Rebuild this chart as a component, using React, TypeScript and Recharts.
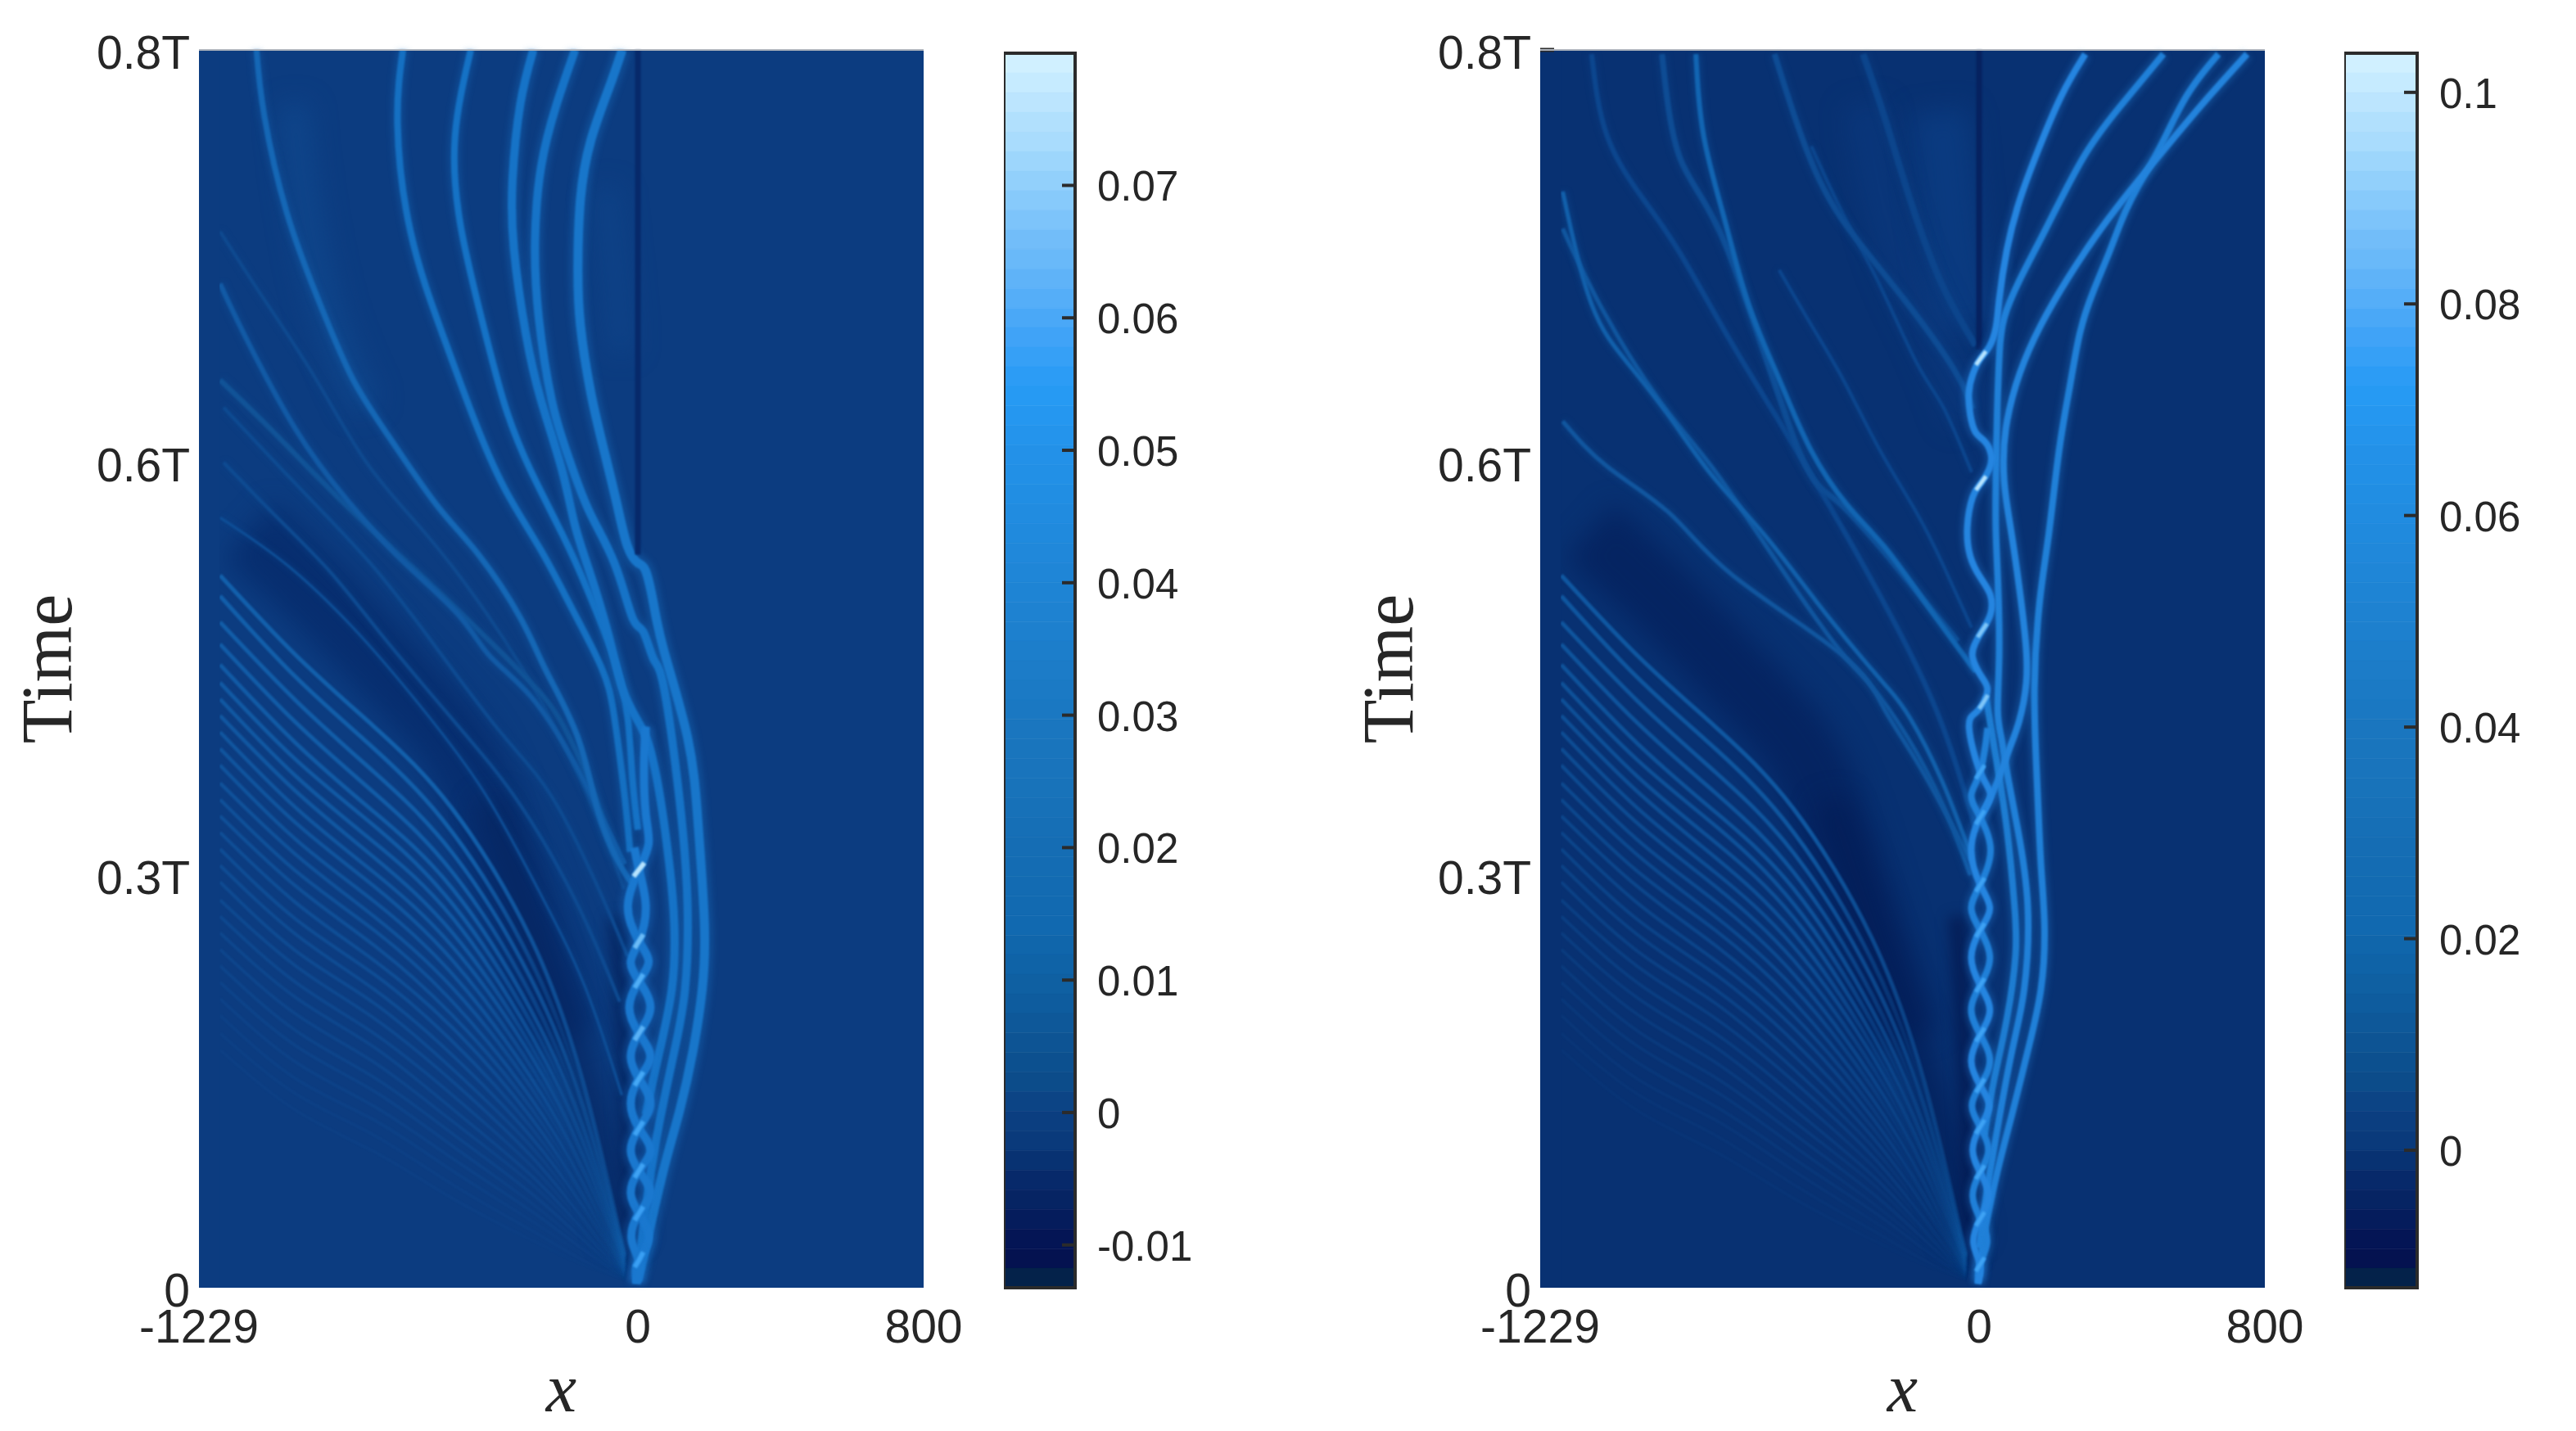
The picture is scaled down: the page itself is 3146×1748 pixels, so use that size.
import { ComposedChart, Line, XAxis, YAxis, ReferenceArea, ReferenceLine } from 'recharts';

type Pt = [number, number];

// colormap, top of the bar first
const colormap = [
  '#d0f0ff', '#c6ebff', '#bce5fe', '#b1e0fd', '#a9dcfd', '#9dd6fc', '#92d0fb', '#87cafb', '#7dc4fa',
  '#72bdf9', '#69b9f9', '#5fb3f8', '#55aef8', '#4aa8f7', '#40a3f7', '#36a0f6', '#2c9cf5', '#269af3',
  '#2597f0', '#2494ec', '#2391e8', '#2290e6', '#218ee3', '#218ce0', '#208add', '#2088da', '#1f86d7',
  '#1e84d4', '#1e82d1', '#1d80ce', '#1c7ecb', '#1c7cc8', '#1b7ac5', '#1a78c2', '#1a76bf', '#1975bd',
  '#1974bc', '#1873ba', '#1771b8', '#166fb6', '#156db4', '#146cb3', '#136bb2', '#126ab1', '#1169b0',
  '#1066ab', '#0f63a7', '#0f60a2', '#0e5c9e', '#0e5899', '#0d5494', '#0c508f', '#0c4c8a', '#0c4485',
  '#0b3e80', '#0a3a7b', '#083272', '#07296a', '#062463', '#051c5c', '#041555', '#041250', '#04224a',
];

const xTicks = [-1229, 0, 800];
const timeTicks = [0, 0.3, 0.6, 0.9];
const timeLabels = ['0', '0.3T', '0.6T', '0.8T'];

// the fine fan of ridges on the left, one list of times per x column
const fanX = [-1170, -958, -739, -519, -300, -154, -37];
const fanAt1170 = [0.518, 0.503, 0.484, 0.468, 0.453, 0.44, 0.428, 0.416, 0.404, 0.392, 0.38, 0.367, 0.355, 0.343, 0.331, 0.319, 0.307, 0.295, 0.282, 0.27, 0.258, 0.246, 0.234, 0.222, 0.21, 0.198, 0.185, 0.173];
const fanAt958 = [0.46, 0.444, 0.427, 0.411, 0.396, 0.384, 0.372, 0.361, 0.349, 0.338, 0.326, 0.315, 0.303, 0.292, 0.28, 0.268, 0.257, 0.245, 0.234, 0.222, 0.211, 0.199, 0.187, 0.176, 0.164, 0.152, 0.141, 0.129];
const fanAt739 = [0.408, 0.392, 0.375, 0.36, 0.346, 0.336, 0.324, 0.313, 0.302, 0.292, 0.281, 0.27, 0.26, 0.249, 0.238, 0.228, 0.217, 0.207, 0.196, 0.185, 0.175, 0.164, 0.153, 0.143, 0.132, 0.122, 0.111, 0.099];
const fanAt519 = [0.348, 0.331, 0.316, 0.302, 0.29, 0.279, 0.269, 0.258, 0.248, 0.238, 0.228, 0.218, 0.208, 0.198, 0.189, 0.179, 0.169, 0.159, 0.15, 0.14, 0.13, 0.121, 0.112, 0.103, 0.094, 0.085, 0.075, 0.065];
const fanAt300 = [0.254, 0.238, 0.225, 0.213, 0.202, 0.193, 0.184, 0.176, 0.169, 0.161, 0.153, 0.146, 0.138, 0.131, 0.124, 0.117, 0.11, 0.103, 0.096, 0.089, 0.082, 0.076, 0.069, 0.062, 0.056, 0.049, 0.042, 0.035];
const fanAt154 = [0.15, 0.141, 0.132, 0.124, 0.117, 0.111, 0.106, 0.1, 0.096, 0.091, 0.086, 0.081, 0.076, 0.071, 0.067, 0.063, 0.059, 0.054, 0.05, 0.046, 0.042, 0.039, 0.035, 0.031, 0.028, 0.024, 0.02, 0.017];
const fanAt37 = [0.024, 0.023, 0.022, 0.021, 0.02, 0.019, 0.018, 0.017, 0.016, 0.016, 0.015, 0.014, 0.013, 0.013, 0.012, 0.012, 0.011, 0.011, 0.01, 0.01, 0.009, 0.009, 0.008, 0.008, 0.007, 0.007, 0.006, 0.006];
const fanColumns = [fanAt1170, fanAt958, fanAt739, fanAt519, fanAt300, fanAt154, fanAt37];

// dark troughs behind the fan
const troughUpper: Pt[] = [[-1090, 0.55], [-885, 0.5], [-665, 0.44], [-500, 0.39], [-400, 0.33], [-300, 0.25], [-210, 0.18]];
const troughLower: Pt[] = [[-417, 0.354], [-271, 0.242], [-124, 0.126], [-37, 0.035]];
const troughBraid: Pt[] = [[-62, 0.27], [-45, 0.2], [-28, 0.1], [-12, 0.02]];

// lighter wide bands in the upper part
const leftGlowOne: Pt[] = [[-965, 0.86], [-940, 0.8], [-870, 0.71], [-760, 0.64]];
const leftGlowTwo: Pt[] = [[-90, 0.8], [-65, 0.74], [-45, 0.68]];
const rightGlowOne: Pt[] = [[-110, 0.855], [-90, 0.8], [-60, 0.74], [-25, 0.7]];
const rightGlowTwo: Pt[] = [[-320, 0.86], [-280, 0.8], [-210, 0.74], [-120, 0.69], [-30, 0.63]];

// left panel
const leftA: Pt[] = [[-44, 0.9], [-80, 0.873], [-132, 0.834], [-161, 0.791], [-168, 0.742], [-161, 0.7], [-132, 0.651], [-95, 0.609], [-58, 0.569], [-29, 0.539], [0, 0.527], [22, 0.521], [44, 0.497], [73, 0.463], [139, 0.4], [168, 0.339], [186, 0.266], [180, 0.217], [154, 0.172], [117, 0.129], [73, 0.087], [29, 0.038], [0, 0.005]];
const leftB: Pt[] = [[-176, 0.9], [-227, 0.861], [-271, 0.815], [-288, 0.761], [-278, 0.706], [-241, 0.645], [-197, 0.606], [-139, 0.566], [-66, 0.527], [-15, 0.487], [15, 0.477], [44, 0.457], [73, 0.436], [117, 0.354], [139, 0.278], [132, 0.217], [102, 0.172], [58, 0.117], [29, 0.071], [4, 0.02]];
const leftC: Pt[] = [[-293, 0.9], [-329, 0.861], [-351, 0.806], [-347, 0.755], [-314, 0.694], [-271, 0.645], [-212, 0.594], [-176, 0.554], [-132, 0.518], [-80, 0.472], [-44, 0.436], [0, 0.412], [29, 0.396], [58, 0.363], [88, 0.308], [102, 0.263], [95, 0.217], [58, 0.169], [22, 0.126]];
const leftD: Pt[] = [[-468, 0.9], [-512, 0.837], [-497, 0.773], [-439, 0.706], [-373, 0.642], [-300, 0.594], [-212, 0.548], [-139, 0.506], [-66, 0.457], [-29, 0.415], [-15, 0.369], [0, 0.333]];
const leftE: Pt[] = [[-658, 0.9], [-673, 0.846], [-636, 0.767], [-548, 0.694], [-461, 0.633], [-373, 0.581], [-271, 0.536], [-183, 0.493], [-102, 0.451], [-66, 0.415], [-37, 0.357], [-22, 0.317]];
const leftF: Pt[] = [[-1068, 0.9], [-1046, 0.852], [-980, 0.779], [-885, 0.712], [-797, 0.66], [-695, 0.618], [-563, 0.569], [-446, 0.533], [-329, 0.487], [-256, 0.448], [-168, 0.4], [-110, 0.345], [-51, 0.308], [-19, 0.295]];
const leftG: Pt[] = [[-1170, 0.73], [-1104, 0.694], [-958, 0.624], [-812, 0.572], [-665, 0.53], [-505, 0.49], [-417, 0.46], [-300, 0.43], [-183, 0.384], [-95, 0.339], [-37, 0.308]];
const leftH: Pt[] = [[-1170, 0.66], [-1031, 0.625], [-841, 0.575], [-636, 0.525], [-446, 0.478], [-300, 0.44], [-212, 0.41], [-124, 0.36], [-66, 0.314]];
const leftJ: Pt[] = [[-1160, 0.6], [-1010, 0.56], [-860, 0.52], [-709, 0.472], [-505, 0.409], [-329, 0.351], [-168, 0.278], [-51, 0.208]];
const leftK: Pt[] = [[-1160, 0.64], [-960, 0.585], [-760, 0.53], [-592, 0.475], [-388, 0.405], [-241, 0.357], [-110, 0.29], [-29, 0.241]];
const leftL: Pt[] = [[-1170, 0.768], [-1050, 0.72], [-900, 0.66], [-760, 0.6], [-600, 0.55], [-450, 0.5], [-300, 0.44], [-200, 0.39], [-110, 0.34], [-40, 0.29]];
const leftN: Pt[] = [[-1170, 0.56], [-980, 0.525], [-780, 0.475], [-600, 0.42], [-430, 0.36], [-280, 0.29], [-150, 0.22], [-45, 0.14]];
const leftBraidOne: Pt[] = [[-4, 0.003], [-6, 0.012], [3, 0.02], [30, 0.036], [3, 0.054], [-20, 0.069], [3, 0.085], [35, 0.1], [3, 0.116], [-20, 0.134], [3, 0.152], [35, 0.168], [3, 0.185], [-24, 0.204], [3, 0.223], [30, 0.237], [3, 0.252], [-28, 0.277], [3, 0.304], [30, 0.323], [22, 0.345], [17, 0.38], [22, 0.408]];
const leftBraidTwo: Pt[] = [[-4, 0.003], [4, 0.012], [3, 0.02], [-18, 0.036], [3, 0.054], [35, 0.069], [3, 0.085], [-20, 0.1], [3, 0.116], [35, 0.134], [3, 0.152], [-20, 0.168], [3, 0.185], [35, 0.204], [3, 0.223], [-20, 0.237], [3, 0.252], [22, 0.277], [3, 0.304], [-10, 0.32]];
const leftSparks: Pt[][] = [
  [[-9, 0.015], [3, 0.02], [15, 0.026]], [[-9, 0.049], [3, 0.054], [15, 0.059]], [[-9, 0.08], [3, 0.085], [15, 0.09]],
  [[-9, 0.111], [3, 0.116], [15, 0.121]], [[-9, 0.147], [3, 0.152], [15, 0.157]], [[-9, 0.18], [3, 0.185], [15, 0.19]],
  [[-9, 0.218], [3, 0.223], [15, 0.228]], [[-9, 0.247], [3, 0.252], [15, 0.257]], [[-12, 0.299], [3, 0.304], [18, 0.309]],
];
const leftSparkColors = ['#3a9ff3', '#3a9ff3', '#3fa3f4', '#3fa3f4', '#45a8f5', '#5ab2f6', '#50aef6', '#6cbcf7', '#b8e4fe'];
const leftSeam: Pt[] = [[0, 0.9], [0, 0.533]];

// right panel
const rightP: Pt[] = [[297, 0.897], [231, 0.867], [165, 0.827], [114, 0.791], [78, 0.755], [56, 0.718], [47, 0.698], [28, 0.684], [5, 0.676], [-18, 0.664], [-29, 0.65], [-25, 0.635], [-10, 0.622], [17, 0.615], [34, 0.605], [28, 0.595], [5, 0.585], [-18, 0.575], [-33, 0.553], [-25, 0.532], [2, 0.517], [31, 0.504], [32, 0.49], [9, 0.478], [-12, 0.468], [-18, 0.458], [5, 0.445], [23, 0.436], [13, 0.426], [-10, 0.418], [-28, 0.407], [3, 0.375], [32, 0.358], [3, 0.342], [-22, 0.318], [3, 0.293], [30, 0.276], [3, 0.26], [-22, 0.24], [3, 0.22], [30, 0.202], [3, 0.184], [-22, 0.165], [3, 0.147], [28, 0.132], [3, 0.117], [-18, 0.1], [3, 0.084], [26, 0.067], [3, 0.05], [-16, 0.033], [2, 0.017], [-3, 0.003]];
const rightBraid: Pt[] = [[24, 0.407], [3, 0.375], [-22, 0.358], [3, 0.342], [32, 0.318], [3, 0.293], [-22, 0.276], [3, 0.26], [30, 0.24], [3, 0.22], [-22, 0.202], [3, 0.184], [30, 0.165], [3, 0.147], [-20, 0.132], [3, 0.117], [26, 0.1], [3, 0.084], [-18, 0.067], [3, 0.05], [22, 0.033], [2, 0.017], [-3, 0.003]];
const rightQ: Pt[] = [[516, 0.897], [392, 0.858], [290, 0.821], [187, 0.77], [114, 0.733], [70, 0.705], [57, 0.68], [51, 0.64], [47, 0.59], [47, 0.55], [53, 0.51], [56, 0.46], [52, 0.42], [62, 0.4], [78, 0.375], [107, 0.335], [136, 0.278], [126, 0.217], [92, 0.172], [48, 0.111], [19, 0.065], [0, 0.029]];
const rightR: Pt[] = [[750, 0.897], [626, 0.861], [516, 0.827], [421, 0.797], [333, 0.767], [246, 0.733], [173, 0.7], [114, 0.665], [75, 0.625], [70, 0.587], [89, 0.551], [112, 0.51], [130, 0.47], [132, 0.44], [112, 0.412], [85, 0.392], [48, 0.366], [4, 0.342]];
const rightS: Pt[] = [[670, 0.897], [582, 0.867], [502, 0.827], [443, 0.8], [399, 0.776], [363, 0.752], [319, 0.724], [282, 0.694], [253, 0.654], [224, 0.609], [195, 0.548], [170, 0.5], [155, 0.436], [162, 0.369], [173, 0.308], [183, 0.263], [173, 0.217], [136, 0.172], [92, 0.126], [48, 0.081], [12, 0.035], [0, 0.008]];
const rightW: Pt[] = [[19, 0.43], [48, 0.384], [78, 0.333], [99, 0.278], [102, 0.242], [78, 0.196], [41, 0.15], [15, 0.111]];
const rightK1: Pt[] = [[-793, 0.897], [-771, 0.837], [-712, 0.776], [-646, 0.715], [-559, 0.66], [-471, 0.609], [-369, 0.569], [-266, 0.539], [-164, 0.503], [-61, 0.466], [-10, 0.448]];
const rightK2: Pt[] = [[-573, 0.897], [-459, 0.812], [-339, 0.761], [-208, 0.718], [-76, 0.67], [-18, 0.639]];
const rightK3: Pt[] = [[-325, 0.897], [-266, 0.852], [-193, 0.791], [-105, 0.73], [-10, 0.685]];
const rightK4: Pt[] = [[-888, 0.897], [-837, 0.821], [-705, 0.755], [-515, 0.615], [-398, 0.572], [-250, 0.53], [-60, 0.47]];
const rightK5: Pt[] = [[-1166, 0.797], [-1085, 0.715], [-983, 0.672], [-866, 0.633], [-749, 0.591], [-603, 0.548], [-456, 0.499], [-325, 0.457], [-252, 0.435], [-193, 0.414], [-105, 0.369], [-18, 0.311]];
const rightK6: Pt[] = [[-1166, 0.63], [-1041, 0.597], [-866, 0.563], [-690, 0.518], [-383, 0.46], [-266, 0.421], [-164, 0.378], [-61, 0.329], [-18, 0.308]];
const rightK7: Pt[] = [[-1085, 0.897], [-1041, 0.837], [-939, 0.791], [-837, 0.752], [-700, 0.69], [-560, 0.63], [-400, 0.56], [-250, 0.49], [-120, 0.42], [-40, 0.36], [-12, 0.335]];
const rightK8: Pt[] = [[-1166, 0.77], [-1056, 0.712], [-895, 0.645], [-749, 0.597], [-588, 0.536], [-398, 0.466], [-310, 0.44], [-200, 0.4], [-100, 0.35], [-25, 0.3]];
const rightK9: Pt[] = [[-470, 0.83], [-380, 0.78], [-280, 0.73], [-174, 0.672], [-100, 0.64], [-21, 0.593]];
const rightK10: Pt[] = [[-560, 0.74], [-470, 0.7], [-380, 0.66], [-280, 0.61], [-174, 0.563], [-100, 0.525], [-21, 0.48]];
const rightSparks: Pt[][] = [
  [[-9, 0.671], [5, 0.676], [19, 0.681]], [[-9, 0.58], [5, 0.585], [19, 0.59]], [[-4, 0.473], [9, 0.478], [22, 0.483]],
  [[0, 0.421], [13, 0.426], [24, 0.431]], [[-9, 0.37], [3, 0.375], [15, 0.38]], [[-9, 0.337], [3, 0.342], [15, 0.347]],
  [[-9, 0.288], [3, 0.293], [15, 0.298]], [[-9, 0.255], [3, 0.26], [15, 0.265]], [[-9, 0.215], [3, 0.22], [15, 0.225]],
  [[-9, 0.179], [3, 0.184], [15, 0.189]], [[-9, 0.142], [3, 0.147], [15, 0.152]], [[-9, 0.112], [3, 0.117], [15, 0.122]],
  [[-9, 0.079], [3, 0.084], [15, 0.089]], [[-9, 0.045], [3, 0.05], [15, 0.055]], [[-9, 0.012], [3, 0.017], [15, 0.022]],
];
const rightSparkColors = ['#b8e4fe', '#b8e4fe', '#80c6f8', '#80c6f8', '#3fa3f4', '#3fa3f4', '#3fa3f4', '#3fa3f4', '#3fa3f4', '#3fa3f4', '#3fa3f4', '#3fa3f4', '#3fa3f4', '#3fa3f4', '#3fa3f4'];
const rightSeam: Pt[] = [[0, 0.9], [0, 0.682]];

const leftStrip: Pt[] = [[-1200, 0], [-1200, 0.9]];

// colorbars
const leftBarDomain = [-0.01323, 0.07998];
const leftBarTicks = [-0.01, 0, 0.01, 0.02, 0.03, 0.04, 0.05, 0.06, 0.07];
const rightBarDomain = [-0.013, 0.1037];
const rightBarTicks = [0, 0.02, 0.04, 0.06, 0.08, 0.1];

const rows = (pts: Pt[]) => pts.map(([x, t]) => ({ x, t }));
const INK = '#262626';
const SANS = '"Liberation Sans", Arial, sans-serif';
const SERIF = '"Liberation Serif", "Times New Roman", serif';

type RidgeStyle = { color: string; width: number; opacity?: number; blur?: string };

const ridge = (key: string, pts: Pt[], s: RidgeStyle) => (
  <Line
    key={key}
    className={s.blur}
    data={rows(pts)}
    dataKey="t"
    type="natural"
    stroke={s.color}
    strokeWidth={s.width}
    strokeOpacity={s.opacity ?? 1}
    dot={false}
    activeDot={false}
    legendType="none"
    isAnimationActive={false}
  />
);

function withHalo(key: string, pts: Pt[], color: string, width: number) {
  return [
    ridge(`${key}-halo`, pts, { color, width: width * 1.9, opacity: 0.3, blur: 'blur-mid' }),
    ridge(key, pts, { color, width, blur: 'blur-fine' }),
  ];
}

// the fan thins out where it runs into the braid: every other line fades harder there
function fanLines(prefix: string) {
  return fanColumns[0].map((_, i) => {
    const pts = fanX.map((x, c) => [x, fanColumns[c][i]] as Pt);
    const strength = Math.max(0.1, 0.95 - i * 0.032);
    const paint = `url(#${prefix}${i % 2 === 0 ? 'Even' : 'Odd'})`;
    return ridge(`fan${i}`, pts, { color: paint, width: 5 - i * 0.07, opacity: strength, blur: 'blur-fan' });
  });
}

// x positions are the chart's own pixels: plot left edge 243, x = 0 near 777
function FanFade({ id, color, tail }: { id: string; color: string; tail: number }) {
  return (
    <linearGradient id={id} gradientUnits="userSpaceOnUse" x1="243" y1="0" x2="777" y2="0">
      <stop offset="0.62" stopColor={color} stopOpacity={1} />
      <stop offset="0.86" stopColor={color} stopOpacity={tail} />
      <stop offset="1" stopColor={color} stopOpacity={tail * 0.7} />
    </linearGradient>
  );
}

type HeatProps = { left: number; bg: string; children: React.ReactNode };

function HeatPanel({ left, bg, children }: HeatProps) {
  return (
    <div style={{ position: 'absolute', left, top: 0 }}>
      <ComposedChart width={1228} height={1748} margin={{ top: 61, right: 100, bottom: 0, left: 0 }}>
        <XAxis
          type="number"
          dataKey="x"
          domain={[-1229, 800]}
          ticks={xTicks}
          interval={0}
          allowDataOverflow
          height={175}
          axisLine={false}
          tickLine={false}
          tickSize={0}
          tickMargin={27}
          tick={{ fontFamily: SANS, fontSize: 57, fill: INK }}
          label={{ value: 'x', position: 'insideBottom', offset: 24, style: { fontFamily: SERIF, fontStyle: 'italic', fontSize: 84, fill: INK } }}
        />
        <YAxis
          type="number"
          dataKey="t"
          domain={[0, 0.9]}
          ticks={timeTicks}
          interval={0}
          allowDataOverflow
          width={243}
          axisLine={false}
          tickLine={false}
          tickSize={0}
          tickMargin={11}
          tickFormatter={(v: number) => timeLabels[timeTicks.indexOf(v)]}
          tick={{ fontFamily: SANS, fontSize: 57, fill: INK, dy: 3 }}
          label={{ value: 'Time', angle: -90, position: 'insideLeft', offset: 56, style: { textAnchor: 'middle', fontFamily: SERIF, fontSize: 88, fill: INK } }}
        />
        <ReferenceArea x1={-1229} x2={800} y1={0} y2={0.9} fill={bg} fillOpacity={1} stroke="none" />
        {children}
        <ReferenceLine y={0.9} stroke="#aeb4bd" strokeWidth={2} />
      </ComposedChart>
    </div>
  );
}

function ColorbarTick({ x, y, payload }: { x: number; y: number; payload: { value: number } }) {
  return (
    <g>
      <line x1={x - 16} x2={x} y1={y} y2={y} stroke="#2b2b2b" strokeWidth={4} />
      <text x={x + 27} y={y + 19} fontFamily={SANS} fontSize={51} fill={INK}>
        {payload.value}
      </text>
    </g>
  );
}

function Colorbar({ left, domain, ticks, width }: { left: number; domain: number[]; ticks: number[]; width: number }) {
  const [lo, hi] = domain;
  const step = (hi - lo) / colormap.length;
  return (
    <div style={{ position: 'absolute', left, top: 0 }}>
      <ComposedChart width={width + 190} height={1748} margin={{ top: 65, right: 0, bottom: 175, left: 0 }}>
        <XAxis type="number" dataKey="x" domain={[0, 1]} hide />
        <YAxis
          type="number"
          orientation="right"
          domain={domain}
          ticks={ticks}
          interval={0}
          width={190}
          axisLine={false}
          tickLine={false}
          tickSize={0}
          tickMargin={0}
          tick={ColorbarTick as any}
        />
        <Line
          data={[{ x: 0, v: lo }, { x: 1, v: hi }]}
          dataKey="v"
          stroke="none"
          dot={false}
          activeDot={false}
          legendType="none"
          isAnimationActive={false}
        />
        {colormap.map((c, i) => (
          <ReferenceArea key={c + i} x1={0} x2={1} y1={hi - (i + 1) * step} y2={hi - i * step} fill={c} fillOpacity={1} stroke={c} strokeWidth={0.6} />
        ))}
        <ReferenceArea x1={0} x2={1} y1={lo} y2={hi} fill="none" stroke="#2b2b2b" strokeWidth={4} />
      </ComposedChart>
    </div>
  );
}

export default function App() {
  const leftBg = '#0c3c80';
  const rightBg = '#083172';
  return (
    <div style={{ position: 'absolute', left: 0, top: 0, width: 3146, height: 1748, background: '#fff' }}>
      <style>{`
        .blur-fine { filter: blur(1.3px); }
        .blur-fan { filter: blur(1px); }
        .blur-mid { filter: blur(3.5px); }
        .blur-soft { filter: blur(8px); }
        .blur-wide { filter: blur(16px); }
      `}</style>
      <svg width="0" height="0" style={{ position: 'absolute' }}>
        <defs>
          <FanFade id="fanLeftEven" color="#1362ae" tail={0.6} />
          <FanFade id="fanLeftOdd" color="#1362ae" tail={0.2} />
          <FanFade id="fanRightEven" color="#105aa4" tail={0.6} />
          <FanFade id="fanRightOdd" color="#105aa4" tail={0.2} />
        </defs>
      </svg>
      <HeatPanel left={0} bg={leftBg}>
        {ridge('gl1', leftGlowOne, { color: '#0f4a90', width: 34, opacity: 0.7, blur: 'blur-wide' })}
        {ridge('gl2', leftGlowTwo, { color: '#0f4a90', width: 30, opacity: 0.5, blur: 'blur-wide' })}
        {ridge('tu', troughUpper, { color: '#06296a', width: 90, opacity: 0.75, blur: 'blur-wide' })}
        {ridge('tl', troughLower, { color: '#05245f', width: 36, opacity: 0.75, blur: 'blur-wide' })}
        {ridge('tb', troughBraid, { color: '#041f58', width: 20, opacity: 0.7, blur: 'blur-soft' })}
        {fanLines('fanLeft')}
        {withHalo('lN', leftN, '#0e4f98', 3)}
        {withHalo('lL', leftL, '#0f4a90', 4)}
        {withHalo('lJ', leftJ, '#0e4b92', 4)}
        {withHalo('lK', leftK, '#0e4b92', 4)}
        {withHalo('lH', leftH, '#115397', 6)}
        {withHalo('lG', leftG, '#125aa5', 6)}
        {withHalo('lF', leftF, '#1567b5', 7)}
        {withHalo('lE', leftE, '#1570c2', 8)}
        {withHalo('lD', leftD, '#1572c5', 8)}
        {withHalo('lC', leftC, '#1673c7', 10)}
        {withHalo('lB', leftB, '#1673c7', 10)}
        {withHalo('lA', leftA, '#1876ca', 11)}
        {ridge('seam', leftSeam, { color: '#07296a', width: 7, blur: 'blur-fine' })}
        {withHalo('b1', leftBraidOne, '#1a78cf', 10)}
        {withHalo('b2', leftBraidTwo, '#1a78cf', 10)}
        {leftSparks.map((s, i) => ridge(`s${i}`, s, { color: leftSparkColors[i], width: 6, blur: 'blur-fine' }))}
        {ridge('strip', leftStrip, { color: leftBg, width: 25 })}
      </HeatPanel>
      <Colorbar left={1226} domain={leftBarDomain} ticks={leftBarTicks} width={87} />

      <HeatPanel left={1638} bg={rightBg}>
        {ridge('gr1', rightGlowOne, { color: '#0c3f86', width: 70, opacity: 0.7, blur: 'blur-wide' })}
        {ridge('gr2', rightGlowTwo, { color: '#0c3f86', width: 50, opacity: 0.4, blur: 'blur-wide' })}
        {ridge('tu', troughUpper, { color: '#04205c', width: 90, opacity: 0.75, blur: 'blur-wide' })}
        {ridge('tl', troughLower, { color: '#031c56', width: 36, opacity: 0.75, blur: 'blur-wide' })}
        {ridge('tb', troughBraid, { color: '#03164c', width: 20, opacity: 0.7, blur: 'blur-soft' })}
        {fanLines('fanRight')}
        {withHalo('k10', rightK10, '#0c468e', 4)}
        {withHalo('k9', rightK9, '#0c468e', 4)}
        {withHalo('k8', rightK8, '#11569f', 5)}
        {withHalo('k7', rightK7, '#0c468e', 6)}
        {withHalo('k6', rightK6, '#11569f', 5)}
        {withHalo('k5', rightK5, '#1260ab', 5)}
        {withHalo('k4', rightK4, '#0e4c94', 7)}
        {withHalo('k3', rightK3, '#0c458c', 8)}
        {withHalo('k2', rightK2, '#0e4c94', 7)}
        {withHalo('k1', rightK1, '#1265b2', 6)}
        {ridge('seam', rightSeam, { color: '#062260', width: 7, blur: 'blur-fine' })}
        {withHalo('w', rightW, '#1e7dd2', 8)}
        {withHalo('q', rightQ, '#2080d8', 8)}
        {withHalo('s', rightS, '#2080d8', 8)}
        {withHalo('r', rightR, '#2383dc', 8)}
        {withHalo('b2', rightBraid, '#2080d8', 8)}
        {withHalo('p', rightP, '#2585e0', 8)}
        {rightSparks.map((s, i) => ridge(`s${i}`, s, { color: rightSparkColors[i], width: 5, blur: 'blur-fine' }))}
        {ridge('strip', leftStrip, { color: rightBg, width: 25 })}
        <ReferenceLine segment={[{ x: -1229, y: 0.9 }, { x: -1190, y: 0.9 }]} stroke="#2b2b2b" strokeWidth={5} />
      </HeatPanel>
      <Colorbar left={2863} domain={rightBarDomain} ticks={rightBarTicks} width={89} />
    </div>
  );
}
